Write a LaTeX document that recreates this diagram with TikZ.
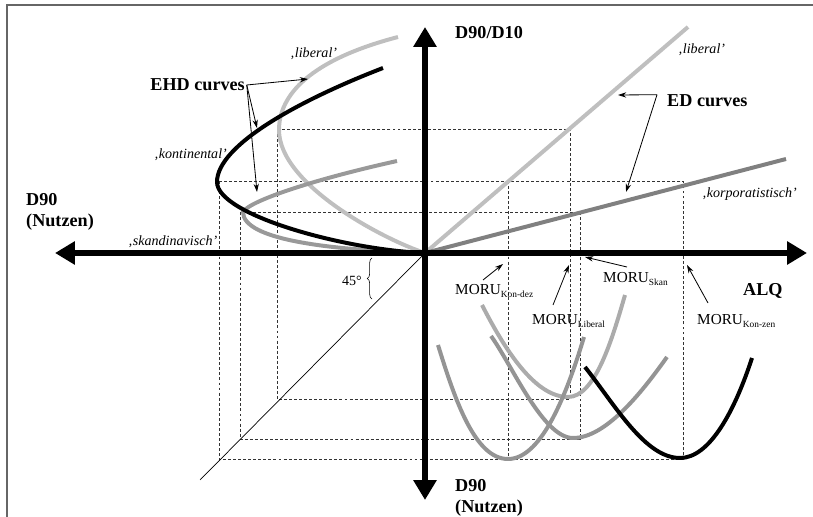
\documentclass[tikz,border=0pt]{standalone}
\usepackage{fontspec}
\setmainfont{Liberation Serif}
\usetikzlibrary{arrows.meta,calc,decorations.pathreplacing}

\newcommand{\moru}[1]{MORU\raisebox{-0.4ex}{\fontsize{8}{9}\selectfont #1}}

\begin{document}
\begin{tikzpicture}[x=0.03cm,y=-0.03cm,
  axis/.style={line width=5pt,{Triangle[length=17pt,width=19pt]}-{Triangle[length=17pt,width=19pt]}},
  curve/.style={line width=3.4pt},
  guide/.style={draw=black!80,line width=0.8pt,dash pattern=on 2.5pt off 1.8pt},
  lbl/.style={font=\fontsize{15.5}{18}\selectfont\bfseries,align=left,inner sep=0pt},
  regime/.style={font=\fontsize{12}{14}\selectfont\itshape,inner sep=0pt,anchor=west},
  moru/.style={font=\fontsize{13}{15}\selectfont,inner sep=0pt,anchor=base west},
  pointer/.style={line width=0.7pt,-{Stealth[length=7pt,width=4.5pt]}}]
	\useasboundingbox (0,0) rectangle (813,517);
	\draw[black!60,line width=1.3pt] (7,517) -- (7,5) -- (813,5);

	% axes points
	\coordinate (o) at (425,253);
	\coordinate (ytop) at (425,27);
	\coordinate (ybot) at (425,500);
	\coordinate (xleft) at (55,253);
	\coordinate (xright) at (807,253);

	% projection lines
	\draw[guide] (277,129) rectangle (570,399);
	\draw[guide] (240,212) rectangle (580,439);
	\draw[guide] (219,181) rectangle (683,459);
	\draw[guide] (508,181) -- (508,459);
	\draw[line width=0.6pt] (o) -- (200,480);

	% EHD curves
	\draw[curve,black!25] (o) .. controls (385,240) and (279,185) .. (279,130)
		.. controls (279,95) and (310,60) .. (398,37);
	\draw[curve,black!40] (o) .. controls (330,250) and (243,240) .. (243,212)
		.. controls (250,200) and (320,178) .. (397,161);
	\draw[curve,black] (o) .. controls (345,250) and (217,215) .. (217,182)
		.. controls (217,145) and (300,100) .. (383,68);

	% ED curves
	\draw[curve,black!25] (o) -- (688,27);
	\draw[curve,black!50] (o) -- (786,159);

	% MORU curves
	\draw[curve,black!33] (482,305) .. controls (505,350) and (535,397) .. (568,397)
		.. controls (595,397) and (612,340) .. (625,295);
	\draw[curve,black!42] (438,345) .. controls (455,400) and (475,459) .. (508,459)
		.. controls (540,459) and (565,400) .. (584,337);
	\draw[curve,black!42] (491,336) .. controls (512,365) and (543,438) .. (573,438)
		.. controls (605,438) and (640,395) .. (667,357);
	\draw[curve,black] (585,367) .. controls (615,405) and (645,458) .. (680,458)
		.. controls (710,458) and (735,410) .. (752,358);

	\draw[axis] (xleft) -- (xright);
	\draw[axis] (ybot) -- (ytop);

	% labels
	\node[lbl,anchor=west] (ylab) at (455,33) {D90/D10};
	\node[lbl,anchor=west] (xlab) at (26,212) {D90\\(Nutzen)};
	\node[lbl,anchor=west] (alq) at (743,291) {ALQ};
	\node[lbl,anchor=north west] (ybotlab) at (455,479) {D90\\(Nutzen)};
	\node[lbl,anchor=east] (ehd) at (245,85) {EHD curves};
	\node[lbl,anchor=west] (ed) at (667,101) {ED curves};
	\node[regime] (libl) at (290,54) {‚liberal’};
	\node[regime] (libr) at (678,50) {‚liberal’};
	\node[regime] (kont) at (154,155) {‚kontinental’};
	\node[regime] (skan) at (128,242) {‚skandinavisch’};
	\node[regime] (korp) at (702,194) {‚korporatistisch’};
	\node[font=\fontsize{12}{14}\selectfont,inner sep=0pt] (deg) at (352,281) {45°};
	\draw[decorate,decoration={brace,amplitude=4pt},line width=0.5pt] (372,299) -- (372,258);

	\node[moru] (mkd) at (455,295) {\moru{Kon-dez}};
	\node[moru] (mlib) at (532,325) {\moru{Liberal}};
	\node[moru] (mskan) at (603,283) {\moru{Skan}};
	\node[moru] (mkz) at (697,325) {\moru{Kon-zen}};

	% pointers
	\coordinate (e1) at (308,79);
	\coordinate (e2) at (257,128);
	\coordinate (e3) at (257,192);
	\draw[pointer] ([xshift=1.5pt]ehd.east) -- (e1);
	\draw[pointer] ([xshift=1.5pt]ehd.east) -- (e2);
	\draw[pointer] ([xshift=1.5pt]ehd.east) -- (e3);
	\coordinate (edc) at ($(ed.north west)+(-10,0)$);
	\coordinate (d1) at (618,95);
	\coordinate (d2) at (626,192);
	\draw[pointer] (edc) -- (d1);
	\draw[pointer] (edc) -- (d2);
	\coordinate (kdtip) at (503,264);
	\coordinate (libtip) at (569,265);
	\coordinate (skantip) at (585,257);
	\coordinate (kztip) at (687,265);
	\draw[pointer] ($(mkd.base west)+(28,-15)$) -- (kdtip);
	\draw[pointer] ($(mlib.base west)+(21,-20)$) -- (libtip);
	\draw[pointer] ($(mskan.base west)+(24,-16)$) -- (skantip);
	\draw[pointer] ($(mkz.base west)+(11,-22)$) -- (kztip);
\end{tikzpicture}
\end{document}
